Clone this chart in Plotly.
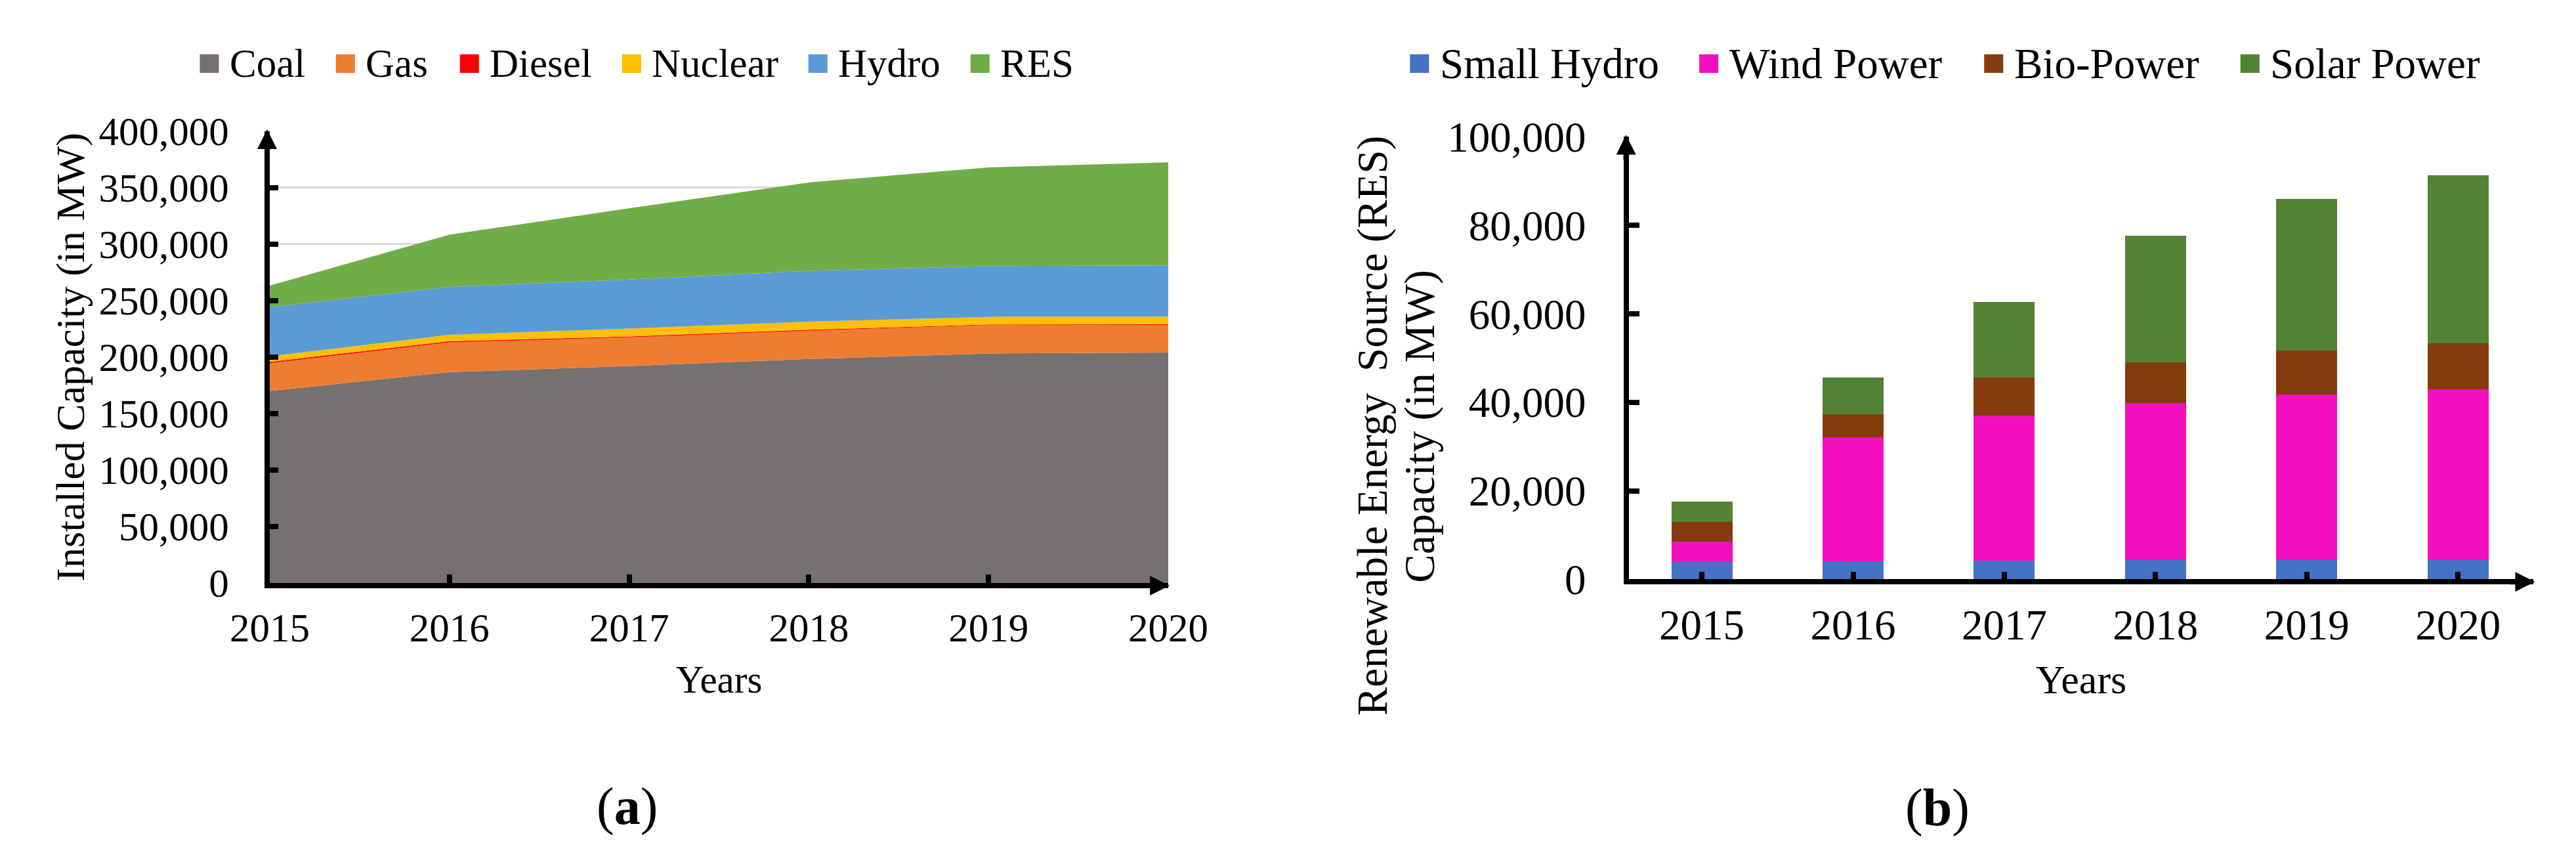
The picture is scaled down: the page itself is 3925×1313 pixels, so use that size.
import plotly.graph_objects as go

# ---------------- data ----------------
years = [2015, 2016, 2017, 2018, 2019, 2020]
year_labels = ["2015", "2016", "2017", "2018", "2019", "2020"]

# (a) installed capacity by source, MW (stacked area)
coal = [170000, 186700, 192100, 198300, 203200, 204000]
gas = [24600, 26300, 25400, 25100, 25100, 24500]
diesel = [1200, 1000, 840, 840, 640, 510]
nuclear = [4900, 5700, 6900, 7100, 6700, 6800]
hydro = [43500, 42500, 43500, 45100, 45000, 45400]
res = [19200, 46200, 63000, 78200, 87300, 91300]

# (b) renewable capacity by source, MW (stacked bars)
small_hydro = [3900, 4100, 4200, 4300, 4400, 4400]
wind_power = [4600, 28000, 32800, 35500, 37300, 38500]
bio_power = [4500, 5200, 8600, 9200, 10000, 10400]
solar_power = [4500, 8300, 17100, 28600, 34300, 38000]

area_names = ["Coal", "Gas", "Diesel", "Nuclear", "Hydro", "RES"]
area_colors = ["#767171", "#ED7D31", "#FF0000", "#FFC000", "#5B9BD5", "#70AD47"]
bar_names = ["Small Hydro", "Wind Power", "Bio-Power", "Solar Power"]
bar_colors = ["#4472C4", "#F20FBE", "#843C0C", "#548235"]

# ---------------- layout helpers ----------------
W, H = 3925, 1313
FONT = "Liberation Serif"


def fx(p):
    return p / W


def fy(p):
    return 1 - p / H


fig = go.Figure()

for name, vals, col in zip(area_names, [coal, gas, diesel, nuclear, hydro, res], area_colors):
    fig.add_trace(go.Scatter(
        x=years, y=vals, name=name, mode="lines", stackgroup="one",
        line=dict(width=0, color=col), fillcolor=col,
        xaxis="x", yaxis="y", showlegend=False,
    ))

for name, vals, col in zip(bar_names, [small_hydro, wind_power, bio_power, solar_power], bar_colors):
    fig.add_trace(go.Bar(
        x=year_labels, y=vals, name=name, marker=dict(color=col, line=dict(width=0)),
        width=0.404, xaxis="x2", yaxis="y2", showlegend=False,
    ))

axis_common = dict(
    showline=True, linecolor="black", linewidth=8,
    ticks="inside", tickcolor="black", tickwidth=8,
    zeroline=False,
)
LF = 61   # left panel text size
RF = 65   # right panel text size

fig.update_layout(
    width=W, height=H, autosize=False,
    margin=dict(l=0, r=0, t=0, b=0),
    paper_bgcolor="white", plot_bgcolor="white",
    font=dict(family=FONT, color="black"),
    barmode="stack",
    showlegend=False,
    xaxis=dict(
        domain=[fx(353), fx(1766)], anchor="y",
        range=[2015, 2020], tickvals=years, ticktext=year_labels,
        ticklen=13, showgrid=False, ticklabelstandoff=8,
        tickfont=dict(family=FONT, size=LF, color="black"),
        title=dict(text="Years", font=dict(family=FONT, size=59), standoff=28),
        **axis_common,
    ),
    yaxis=dict(
        domain=[fy(894), fy(166)], anchor="x",
        range=[0, 400000], dtick=50000, tickformat=",",
        ticklen=13, showgrid=True, gridcolor="#D9D9D9", gridwidth=3,
        ticklabelstandoff=42,
        tickfont=dict(family=FONT, size=LF, color="black"),
        title=dict(text="Installed Capacity (in MW)", font=dict(family=FONT, size=62), standoff=5),
        **axis_common,
    ),
    xaxis2=dict(
        domain=[fx(2490), fx(3913)], anchor="y2", type="category",
        range=[-0.484, 5.5], ticklen=11, showgrid=False, ticklabelstandoff=6,
        tickfont=dict(family=FONT, size=RF, color="black"),
        title=dict(text="Years", font=dict(family=FONT, size=62), standoff=28),
        **axis_common,
    ),
    yaxis2=dict(
        domain=[fy(888), fy(175)], anchor="x2",
        range=[0, 100000], dtick=20000, tickformat=",",
        ticklen=16, showgrid=False, ticklabelstandoff=44,
        tickfont=dict(family=FONT, size=RF, color="black"),
        **axis_common,
    ),
)

annotations = []
shapes = []

# arrow heads on the axes
arrow = dict(text="", showarrow=True, arrowhead=2, arrowsize=0.75, arrowwidth=8,
             arrowcolor="black", standoff=0)
annotations.append(dict(x=0, y=1, xref="x domain", yref="y domain", ax=0, ay=40,
                        xshift=-4, yshift=3, **arrow))
annotations.append(dict(x=1, y=0, xref="x domain", yref="y domain", ax=-40, ay=0,
                        xshift=2, yshift=-4, **arrow))
annotations.append(dict(x=0, y=1, xref="x2 domain", yref="y2 domain", ax=0, ay=40,
                        xshift=-4, yshift=3, **arrow))
annotations.append(dict(x=1, y=0, xref="x2 domain", yref="y2 domain", ax=-40, ay=0,
                        xshift=2, yshift=-4, **arrow))

# legends (drawn as keys + text)
legend_left_x = [243, 457, 652, 907, 1200, 1455]
legend_right_x = [2146, 2601, 3049, 3452]
for names, cols, xs, fs in [(area_names, area_colors, legend_left_x, LF),
                            (bar_names, bar_colors, legend_right_x, RF)]:
    for name, col, x0 in zip(names, cols, xs):
        shapes.append(dict(type="rect", xref="paper", yref="paper",
                           x0=fx(x0), x1=fx(x0 + 30), y0=fy(72), y1=fy(42),
                           fillcolor=col, line=dict(width=0)))
        annotations.append(dict(text=name, x=fx(x0 + 45), y=fy(57), xref="paper", yref="paper",
                                xanchor="left", yanchor="middle", showarrow=False,
                                font=dict(family=FONT, size=fs, color="black")))

# right y-axis title (two lines)
annotations.append(dict(text="Renewable Energy  Source (RES)", textangle=-90,
                        x=fx(2087), y=fy(641), xref="paper", yref="paper",
                        xanchor="center", yanchor="middle", showarrow=False,
                        font=dict(family=FONT, size=65, color="black")))
annotations.append(dict(text="Capacity (in MW)", textangle=-90,
                        x=fx(2161), y=fy(641), xref="paper", yref="paper",
                        xanchor="center", yanchor="middle", showarrow=False,
                        font=dict(family=FONT, size=65, color="black")))

# panel labels
annotations.append(dict(text="(<b>a</b>)", x=fx(915), y=fy(1254), xref="paper", yref="paper",
                        xanchor="center", yanchor="middle", showarrow=False,
                        font=dict(family=FONT, size=80, color="black")))
annotations.append(dict(text="(<b>b</b>)", x=fx(2975), y=fy(1256), xref="paper", yref="paper",
                        xanchor="center", yanchor="middle", showarrow=False,
                        font=dict(family=FONT, size=80, color="black")))

fig.update_layout(annotations=annotations, shapes=shapes)

fig.write_html("out.html")
